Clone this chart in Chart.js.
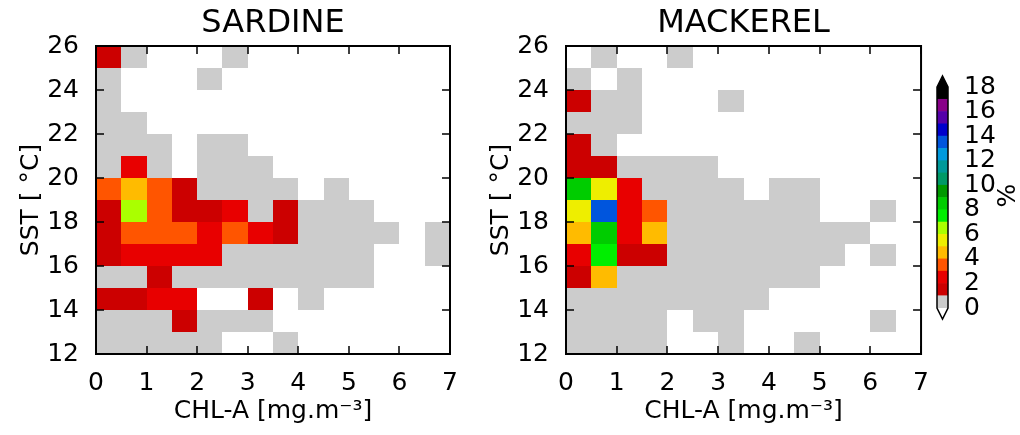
<!DOCTYPE html>
<html>
<head>
<meta charset="utf-8">
<script src="https://cdn.jsdelivr.net/npm/chart.js@4.4.1/dist/chart.umd.min.js"></script>
<style>
    html, body { margin: 0; padding: 0; background: #fff; }
    #wrap { position: relative; width: 1020px; height: 435px; overflow: hidden; }
    canvas { position: absolute; top: 0; }
</style>
</head>
<body>
<div id="wrap">
    <canvas id="sardine" width="470" height="435" style="left:0px"></canvas>
    <canvas id="mackerel" width="465" height="435" style="left:470px"></canvas>
    <canvas id="colorbar" width="85" height="435" style="left:935px"></canvas>
</div>
<script>
const n = null;

// left edges of the CHL-A bins (mg.m-3) and bottom edges of the SST bins (deg C), top row first
const chlBins = [0, 0.5, 1, 1.5, 2, 2.5, 3, 3.5, 4, 4.5, 5, 5.5, 6, 6.5];
const sstBins = [25, 24, 23, 22, 21, 20, 19, 18, 17, 16, 15, 14, 13, 12];
const chlStep = 0.5;
const sstStep = 1;

// percentage of occurrences per cell, one row per SST bin (top row first)
const sardine = [
    [1.5, 0.5, n, n, n, 0.5, n, n, n, n, n, n, n, n],
    [0.5, n, n, n, 0.5, n, n, n, n, n, n, n, n, n],
    [0.5, n, n, n, n, n, n, n, n, n, n, n, n, n],
    [0.5, 0.5, n, n, n, n, n, n, n, n, n, n, n, n],
    [0.5, 0.5, 0.5, n, 0.5, 0.5, n, n, n, n, n, n, n, n],
    [0.5, 2.5, 0.5, n, 0.5, 0.5, 0.5, n, n, n, n, n, n, n],
    [3.5, 4.5, 3.5, 1.5, 0.5, 0.5, 0.5, 0.5, n, 0.5, n, n, n, n],
    [1.5, 6.5, 3.5, 1.5, 1.5, 2.5, 0.5, 1.5, 0.5, 0.5, 0.5, n, n, n],
    [1.5, 3.5, 3.5, 3.5, 2.5, 3.5, 2.5, 1.5, 0.5, 0.5, 0.5, 0.5, n, 0.5],
    [1.5, 2.5, 2.5, 2.5, 2.5, 0.5, 0.5, 0.5, 0.5, 0.5, 0.5, n, n, 0.5],
    [0.5, 0.5, 1.5, 0.5, 0.5, 0.5, 0.5, 0.5, 0.5, 0.5, 0.5, n, n, n],
    [1.5, 1.5, 2.5, 2.5, n, n, 1.5, n, 0.5, n, n, n, n, n],
    [0.5, 0.5, 0.5, 1.5, 0.5, 0.5, 0.5, n, n, n, n, n, n, n],
    [0.5, 0.5, 0.5, 0.5, 0.5, n, n, 0.5, n, n, n, n, n, n]
];

const mackerel = [
    [n, 0.5, n, n, 0.5, n, n, n, n, n, n, n, n, n],
    [0.5, n, 0.5, n, n, n, n, n, n, n, n, n, n, n],
    [1.5, 0.5, 0.5, n, n, n, 0.5, n, n, n, n, n, n, n],
    [0.5, 0.5, 0.5, n, n, n, n, n, n, n, n, n, n, n],
    [1.5, 0.5, n, n, n, n, n, n, n, n, n, n, n, n],
    [1.5, 1.5, 0.5, 0.5, 0.5, 0.5, n, n, n, n, n, n, n, n],
    [8.5, 5.5, 2.5, 0.5, 0.5, 0.5, 0.5, n, 0.5, 0.5, n, n, n, n],
    [5.5, 13.5, 2.5, 3.5, 0.5, 0.5, 0.5, 0.5, 0.5, 0.5, n, n, 0.5, n],
    [4.5, 8.5, 2.5, 4.5, 0.5, 0.5, 0.5, 0.5, 0.5, 0.5, 0.5, 0.5, n, n],
    [2.5, 7.5, 1.5, 1.5, 0.5, 0.5, 0.5, 0.5, 0.5, 0.5, 0.5, n, 0.5, n],
    [1.5, 4.5, 0.5, 0.5, 0.5, 0.5, 0.5, 0.5, 0.5, 0.5, n, n, n, n],
    [0.5, 0.5, 0.5, 0.5, 0.5, 0.5, 0.5, 0.5, n, n, n, n, n, n],
    [0.5, 0.5, 0.5, 0.5, n, 0.5, 0.5, n, n, n, n, n, 0.5, n],
    [0.5, 0.5, 0.5, 0.5, n, n, 0.5, n, n, 0.5, n, n, n, n]
];

// colour levels of the colour bar, one colour per 1 % step from 0 to 18
const levelColors = [
    '#cccccc', '#cc0000', '#e80000', '#ff5500', '#ffbb00', '#eeee00',
    '#aaff00', '#00ee00', '#00cc00', '#009900', '#009966', '#009999',
    '#0099dd', '#0055dd', '#0000cc', '#5500aa', '#880088', '#000000'
];
const barMin = 0;
const barMax = 18;

Chart.defaults.font.family = "'DejaVu Sans', sans-serif";
Chart.defaults.color = '#000';

function colorFor(value) {
    const i = Math.max(0, Math.min(levelColors.length - 1, Math.floor(value)));
    return levelColors[i];
}

function buildCells(grid) {
    const cells = [];
    grid.forEach((row, r) => {
        row.forEach((v, c) => {
            if (v !== null) {
                cells.push({ x: chlBins[c], y: sstBins[r], v: v });
            }
        });
    });
    return cells;
}

// draws the cells through the chart scales, then the frame with inward ticks
const heatmapPlugin = {
    id: 'heatmap',
    beforeDatasetsDraw(chart) {
        const { ctx } = chart;
        const x = chart.scales.x;
        const y = chart.scales.y;
        ctx.save();
        chart.data.datasets[0].data.forEach((cell) => {
            const left = Math.round(x.getPixelForValue(cell.x));
            const right = Math.round(x.getPixelForValue(cell.x + chlStep));
            const top = Math.round(y.getPixelForValue(cell.y + sstStep));
            const bottom = Math.round(y.getPixelForValue(cell.y));
            ctx.fillStyle = colorFor(cell.v);
            ctx.fillRect(left, top, right - left, bottom - top);
        });
        ctx.restore();
    },
    afterDatasetsDraw(chart) {
        const { ctx, chartArea } = chart;
        const x = chart.scales.x;
        const y = chart.scales.y;
        const len = 8;
        ctx.save();
        ctx.strokeStyle = '#000';
        ctx.lineWidth = 1.5;
        ctx.beginPath();
        x.ticks.forEach((t) => {
            const px = Math.round(x.getPixelForValue(t.value));
            ctx.moveTo(px, chartArea.bottom);
            ctx.lineTo(px, chartArea.bottom - len);
            ctx.moveTo(px, chartArea.top);
            ctx.lineTo(px, chartArea.top + len);
        });
        y.ticks.forEach((t) => {
            const py = Math.round(y.getPixelForValue(t.value));
            ctx.moveTo(chartArea.left, py);
            ctx.lineTo(chartArea.left + len, py);
            ctx.moveTo(chartArea.right, py);
            ctx.lineTo(chartArea.right - len, py);
        });
        ctx.stroke();
        ctx.lineWidth = 2;
        ctx.strokeRect(chartArea.left, chartArea.top,
            chartArea.right - chartArea.left, chartArea.bottom - chartArea.top);
        ctx.restore();
    }
};

function makeHeatmap(canvasId, title, grid, padRight) {
    return new Chart(document.getElementById(canvasId), {
        type: 'scatter',
        data: {
            datasets: [{ data: buildCells(grid), pointRadius: 0, pointHoverRadius: 0 }]
        },
        options: {
            responsive: false,
            animation: false,
            events: [],
            layout: { padding: { left: 0, right: padRight, top: 0, bottom: 0 } },
            plugins: {
                legend: { display: false },
                tooltip: { enabled: false },
                title: {
                    display: true,
                    text: title,
                    fullSize: false,
                    color: '#000',
                    font: { size: 32, weight: 'normal' },
                    padding: { top: 4, bottom: 3.6 }
                }
            },
            scales: {
                x: {
                    type: 'linear',
                    min: 0,
                    max: 7,
                    ticks: { stepSize: 1, padding: 6, maxRotation: 0, font: { size: 25 }, color: '#000' },
                    grid: { display: false },
                    border: { display: false },
                    title: {
                        display: true,
                        text: 'CHL-A [mg.m\u207B\u00B3]',
                        color: '#000',
                        font: { size: 25 },
                        padding: { top: 0, bottom: 9 }
                    },
                    afterFit(scale) { scale.height = 81; }
                },
                y: {
                    type: 'linear',
                    min: 12,
                    max: 26,
                    ticks: { stepSize: 2, padding: 9, font: { size: 25 }, color: '#000' },
                    grid: { display: false },
                    border: { display: false },
                    title: {
                        display: true,
                        text: 'SST [ \u00B0C]',
                        color: '#000',
                        font: { size: 25 },
                        padding: { top: 16, bottom: 0 }
                    },
                    afterFit(scale) { scale.width = 96; }
                }
            }
        },
        plugins: [heatmapPlugin]
    });
}

// extension triangles, outline and the "%" label of the colour bar
const colorbarPlugin = {
    id: 'colorbarFrame',
    afterDatasetsDraw(chart) {
        const { ctx, chartArea } = chart;
        const { left, right, top, bottom } = chartArea;
        const mid = (left + right) / 2;
        const tri = 11;
        ctx.save();
        ctx.fillStyle = levelColors[levelColors.length - 1];
        ctx.beginPath();
        ctx.moveTo(left, top);
        ctx.lineTo(mid, top - tri);
        ctx.lineTo(right, top);
        ctx.closePath();
        ctx.fill();

        ctx.fillStyle = '#fff';
        ctx.beginPath();
        ctx.moveTo(left, bottom);
        ctx.lineTo(mid, bottom + tri);
        ctx.lineTo(right, bottom);
        ctx.closePath();
        ctx.fill();

        ctx.strokeStyle = '#000';
        ctx.lineWidth = 1.5;
        ctx.beginPath();
        ctx.moveTo(left, top);
        ctx.lineTo(mid, top - tri);
        ctx.lineTo(right, top);
        ctx.lineTo(right, bottom);
        ctx.lineTo(mid, bottom + tri);
        ctx.lineTo(left, bottom);
        ctx.closePath();
        ctx.stroke();

        ctx.translate(73, (top + bottom) / 2 - 2);
        ctx.rotate(-Math.PI / 2);
        ctx.fillStyle = '#000';
        ctx.font = "25px 'DejaVu Sans'";
        ctx.textAlign = 'center';
        ctx.textBaseline = 'middle';
        ctx.fillText('%', 0, 0);
        ctx.restore();
    }
};

function makeColorbar(canvasId) {
    return new Chart(document.getElementById(canvasId), {
        type: 'bar',
        data: {
            labels: [''],
            datasets: levelColors.map((c) => ({
                data: [1],
                backgroundColor: c,
                borderWidth: 0,
                barPercentage: 1,
                categoryPercentage: 1
            }))
        },
        options: {
            responsive: false,
            animation: false,
            events: [],
            layout: { padding: { left: 2, right: 0, top: 87, bottom: 127 } },
            plugins: {
                legend: { display: false },
                tooltip: { enabled: false }
            },
            scales: {
                x: { display: false, stacked: true },
                y: {
                    position: 'right',
                    stacked: true,
                    min: barMin,
                    max: barMax,
                    ticks: { stepSize: 2, autoSkip: false, padding: 8, font: { size: 25 }, color: '#000' },
                    grid: { display: false },
                    border: { display: false },
                    afterFit(scale) { scale.width = 72; }
                }
            }
        },
        plugins: [colorbarPlugin]
    });
}

makeHeatmap('sardine', 'SARDINE', sardine, 20);
makeHeatmap('mackerel', 'MACKEREL', mackerel, 13);
makeColorbar('colorbar');
</script>
</body>
</html>
